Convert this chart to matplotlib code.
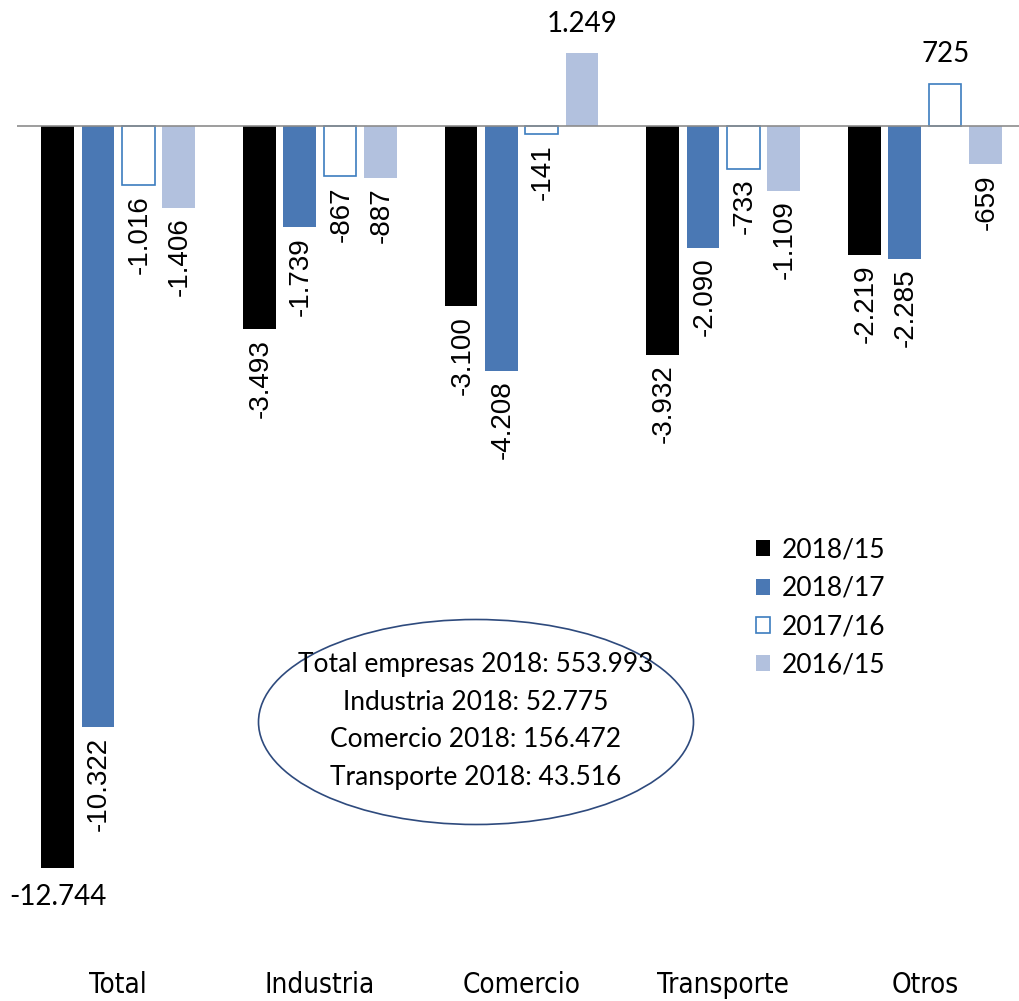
import numpy as np
import matplotlib.pyplot as plt
from matplotlib import font_manager
from matplotlib.patches import Ellipse

categories = ["Total", "Industria", "Comercio", "Transporte", "Otros"]
series = ["2018/15", "2018/17", "2017/16", "2016/15"]
v_2018_15 = [-12744, -3493, -3100, -3932, -2219]
v_2018_17 = [-10322, -1739, -4208, -2090, -2285]
v_2017_16 = [-1016, -867, -141, -733, 725]
v_2016_15 = [-1406, -887, 1249, -1109, -659]
summary = ["Total empresas 2018: 553.993", "Industria 2018: 52.775",
           "Comercio 2018: 156.472", "Transporte 2018: 43.516"]

values = [v_2018_15, v_2018_17, v_2017_16, v_2016_15]
faces = ["#000000", "#4A78B4", "#FFFFFF", "#B2C1DE"]
edges = ["#000000", "#4A78B4", "#3C7DBF", "#B2C1DE"]

# pick a narrow font for the category labels if one is around
names = {f.name: f for f in font_manager.fontManager.ttflist}
cat_font = {"family": "Lato", "size": 20}
if "Liberation Sans Narrow" in names:
    cat_font = {"family": "Liberation Sans Narrow", "size": 23}
else:
    for f in font_manager.fontManager.ttflist:
        if f.name == "DejaVu Sans" and "ondensed" in f.fname and "Bold" not in f.fname \
                and "Oblique" not in f.fname:
            cat_font = {"fname": f.fname, "size": 20}
            break

W, H = 1019, 1001
fig = plt.figure(figsize=(W / 100, H / 100), dpi=100)
# axes placed in pixel terms: left 17px, top 0, bottom 960px
ax = fig.add_axes([17 / W, 1 - 960 / H, 1 - 17 / W, 960 / H])

scale = 0.0582  # px per unit
ax.set_ylim(-(960 - 126) / scale, 126 / scale)
ax.set_xlim(-(118 - 17) / 201.7, 4 + (1019 - 925) / 201.7)

x = np.arange(len(categories))
width = 0.162
offsets = [-0.3, -0.1, 0.1, 0.3]
for vals, off, fc, ec, name in zip(values, offsets, faces, edges, series):
    lw = 1.2 if fc == "#FFFFFF" else 0
    bars = ax.bar(x + off, vals, width, color=fc, edgecolor=ec, linewidth=lw, label=name)
    for b, v in zip(bars, vals):
        txt = f"{v:,}".replace(",", ".")
        cx = b.get_x() + b.get_width() / 2
        if v > 0:
            ax.annotate(txt, (cx, v), xytext=(0, 12), textcoords="offset points",
                        ha="center", va="bottom", fontsize=20, family="Lato")
        elif v == min(v_2018_15):
            ax.annotate(txt, (cx, v), xytext=(0, -12), textcoords="offset points",
                        ha="center", va="top", fontsize=20, family="Lato")
        else:
            ax.annotate(txt, (cx, v), xytext=(1, -7), textcoords="offset points",
                        ha="center", va="top", rotation=90, fontsize=20,
                        family="Liberation Sans")

ax.axhline(0, color="#8C8C8C", linewidth=1.2)
for s in ax.spines.values():
    s.set_visible(False)
ax.set_yticks([])
ax.set_xticks(x)
ax.set_xticklabels(categories, fontproperties=font_manager.FontProperties(**cat_font))
ax.tick_params(axis="x", length=0, pad=8)

fig.legend(loc="upper left", bbox_to_anchor=(732 / W, 1 - 514 / H), frameon=False,
           handlelength=0.55, handleheight=0.55, handletextpad=0.45,
           labelspacing=0.5, prop={"family": "Lato", "size": 19})

ell = Ellipse((476 / W, 1 - 722 / H), 435 / W, 205 / H, transform=fig.transFigure,
              facecolor="none", edgecolor="#2E4A7D", linewidth=1.2)
fig.patches.append(ell)
fig.text(476 / W, 1 - 721 / H, "\n".join(summary), ha="center", va="center",
         fontsize=19, family="Lato", linespacing=1.62)

fig.savefig("out.png", dpi=100, facecolor="white")
